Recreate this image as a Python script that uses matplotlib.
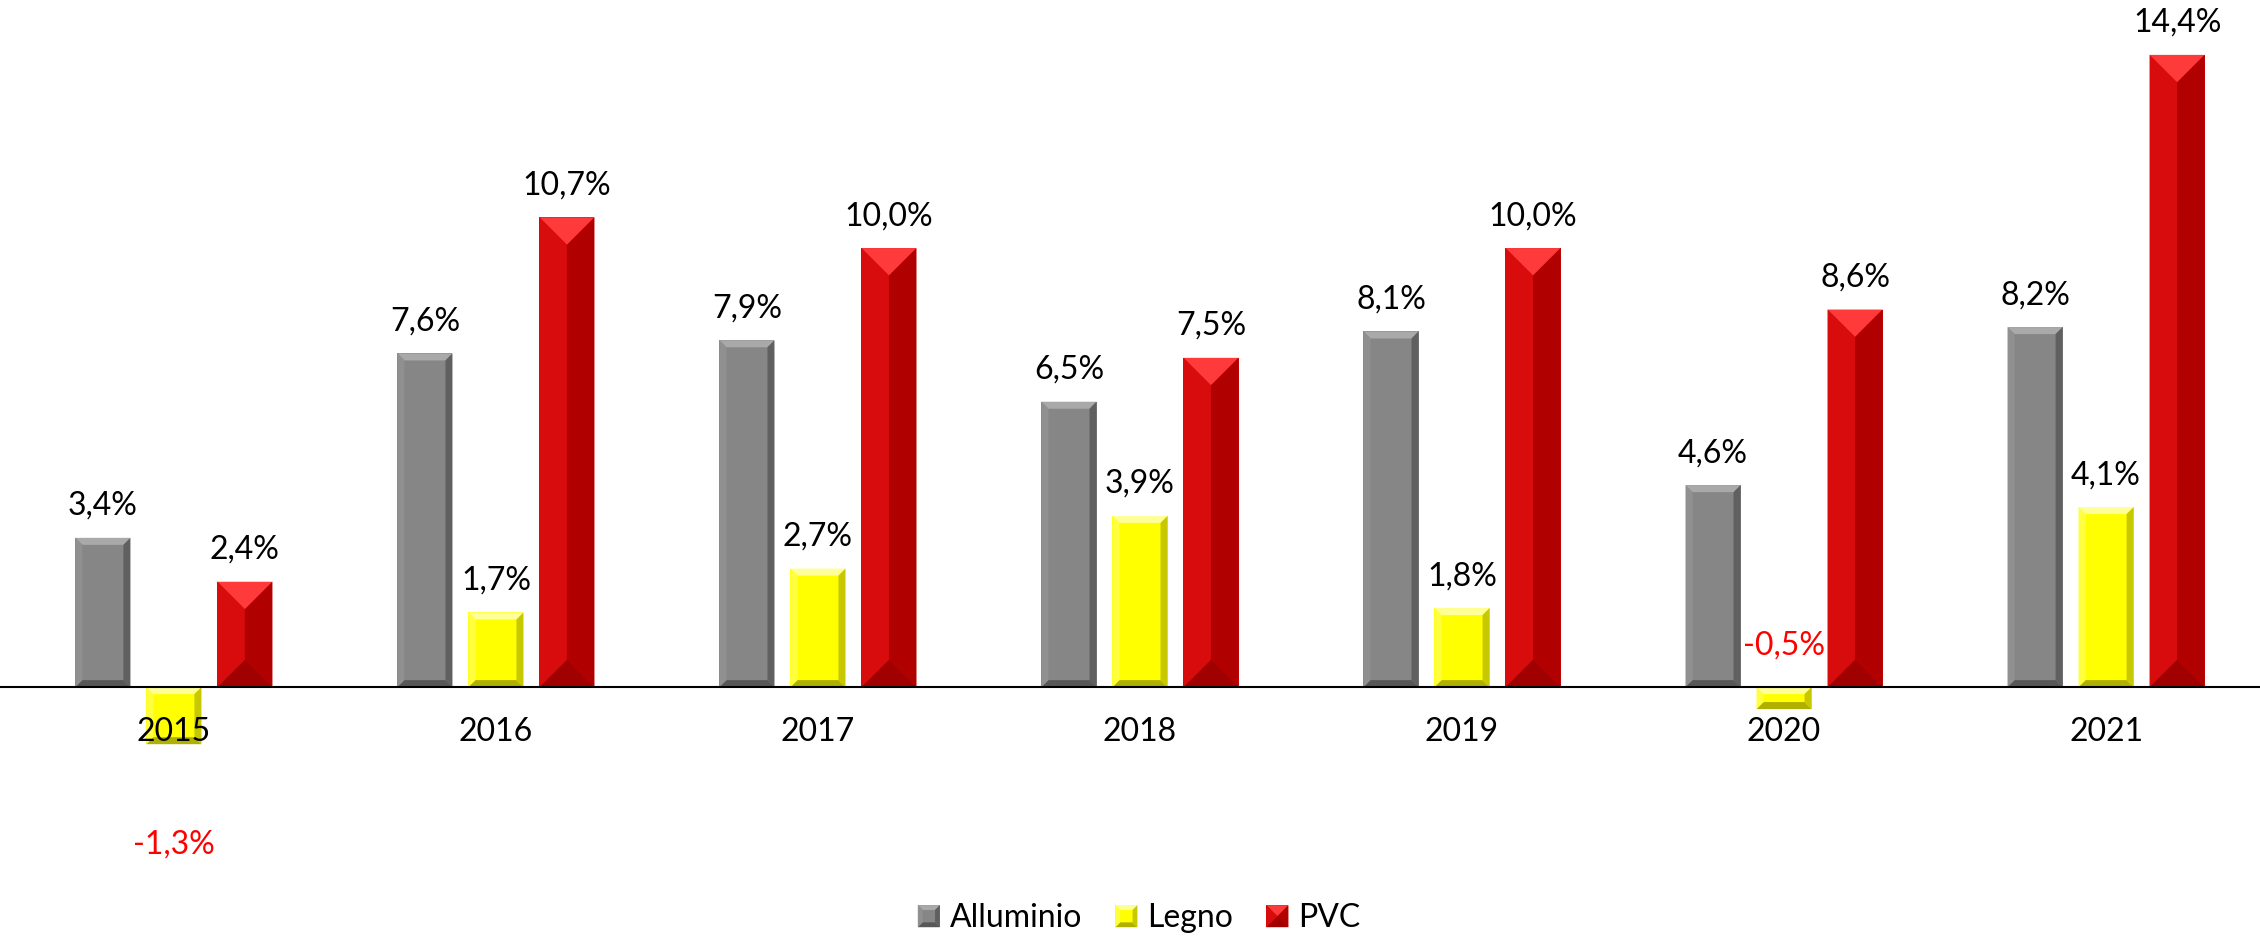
import matplotlib.pyplot as plt
from matplotlib.patches import Polygon, Rectangle
from matplotlib.legend_handler import HandlerBase
import numpy as np

# DATA
years = ['2015', '2016', '2017', '2018', '2019', '2020', '2021']
alluminio = [3.4, 7.6, 7.9, 6.5, 8.1, 4.6, 8.2]
legno = [-1.3, 1.7, 2.7, 3.9, 1.8, -0.5, 4.1]
pvc = [2.4, 10.7, 10.0, 7.5, 10.0, 8.6, 14.4]
series_names = ['Alluminio', 'Legno', 'PVC']

plt.rcParams['font.family'] = ['Lato', 'DejaVu Sans']

# face, top, left, right, bottom, bevel px (None = half width)
styles = {
    'Alluminio': ('#868686', '#a9a9a9', '#909090', '#606060', '#575757', 7),
    'Legno': ('#ffff00', '#ffff9a', '#ffff40', '#c8c800', '#b0b000', 7),
    'PVC': ('#d30a0a', '#ff3a3a', '#d80c0c', '#b00000', '#a00000', None),
}

fig = plt.figure(figsize=(22.6, 9.4), dpi=100)
ax = fig.add_axes([0, 0, 1, 1])
ax.set_xlim(-0.54, 6.478)
ax.set_ylim(-5.76, 15.65)
ax.axis('off')

# px per data unit
p0, p1 = ax.transData.transform([(0, 0), (1, 1)])
sx, sy = p1[0] - p0[0], p1[1] - p0[1]


def bevel(x0, x1, y0, y1, st, zorder=3):
    face, top, left, right, bottom, b = st
    w_px = (x1 - x0) * sx
    h_px = (y1 - y0) * sy
    b = w_px / 2 if b is None else b
    bx = b / sx
    by = min(b, h_px / 2) / sy
    ax.add_patch(Polygon([(x0, y1), (x1, y1), (x1 - bx, y1 - by), (x0 + bx, y1 - by)],
                         closed=True, fc=top, ec='none', zorder=zorder))
    ax.add_patch(Polygon([(x0, y0), (x1, y0), (x1 - bx, y0 + by), (x0 + bx, y0 + by)],
                         closed=True, fc=bottom, ec='none', zorder=zorder))
    ax.add_patch(Polygon([(x0, y0), (x0, y1), (x0 + bx, y1 - by), (x0 + bx, y0 + by)],
                         closed=True, fc=left, ec='none', zorder=zorder))
    ax.add_patch(Polygon([(x1, y0), (x1, y1), (x1 - bx, y1 - by), (x1 - bx, y0 + by)],
                         closed=True, fc=right, ec='none', zorder=zorder))


x = np.arange(len(years))
step = 0.2205
width = 0.171
all_vals = [alluminio, legno, pvc]

for k, (name, vals) in enumerate(zip(series_names, all_vals)):
    st = styles[name]
    bars = ax.bar(x + (k - 1) * step, vals, width, color=st[0], zorder=2)
    for b in bars:
        y0 = min(b.get_y(), b.get_y() + b.get_height())
        y1 = max(b.get_y(), b.get_y() + b.get_height())
        bevel(b.get_x(), b.get_x() + b.get_width(), y0, y1, st)

# baseline
ax.axhline(0, color='black', lw=1.5, zorder=4)

# value labels
for k, vals in enumerate(all_vals):
    for i, v in enumerate(vals):
        txt = f"{v:.1f}%".replace('.', ',')
        if v >= 0:
            ax.annotate(txt, (x[i] + (k - 1) * step, v), xytext=(0, 23),
                        textcoords='offset points', ha='center', va='center',
                        fontsize=23, color='black', zorder=5)
        else:
            # Excel places negative labels oddly
            dy = -72 if v < -1 else 30
            yref = v if v < -1 else 0
            ax.annotate(txt, (x[i] + (k - 1) * step, yref), xytext=(0, dy),
                        textcoords='offset points', ha='center', va='center',
                        fontsize=23, color='#ff0000', zorder=5)

# year labels
for i, yr in enumerate(years):
    ax.annotate(yr, (x[i], 0), xytext=(0, -32), textcoords='offset points',
                ha='center', va='center', fontsize=23, color='black', zorder=5)


class BevelHandler(HandlerBase):
    def __init__(self, st):
        super().__init__()
        self.st = st

    def create_artists(self, legend, orig_handle, xdescent, ydescent, width, height, fontsize, trans):
        face, top, left, right, bottom, b = self.st
        s = min(width, height)
        x0, y0 = -xdescent, -ydescent + (height - s) / 2
        x1, y1 = x0 + s, y0 + s
        bb = s * 0.22 if b is not None else s / 2
        arts = [Rectangle((x0, y0), s, s, fc=face, ec='none', transform=trans)]
        for pts, c in [
            ([(x0, y1), (x1, y1), (x1 - bb, y1 - bb), (x0 + bb, y1 - bb)], top),
            ([(x0, y0), (x1, y0), (x1 - bb, y0 + bb), (x0 + bb, y0 + bb)], bottom),
            ([(x0, y0), (x0, y1), (x0 + bb, y1 - bb), (x0 + bb, y0 + bb)], left),
            ([(x1, y0), (x1, y1), (x1 - bb, y1 - bb), (x1 - bb, y0 + bb)], right),
        ]:
            arts.append(Polygon(pts, closed=True, fc=c, ec='none', transform=trans))
        return arts


handles = [Rectangle((0, 0), 1, 1) for _ in series_names]
fig.legend(handles, series_names, loc='center', bbox_to_anchor=(0.504, 0.023),
           ncol=3, frameon=False, fontsize=23, handlelength=0.69, handleheight=0.69,
           handletextpad=0.3, columnspacing=1.05,
           handler_map={h: BevelHandler(styles[n]) for h, n in zip(handles, series_names)})

fig.savefig('out.png', dpi=100)
